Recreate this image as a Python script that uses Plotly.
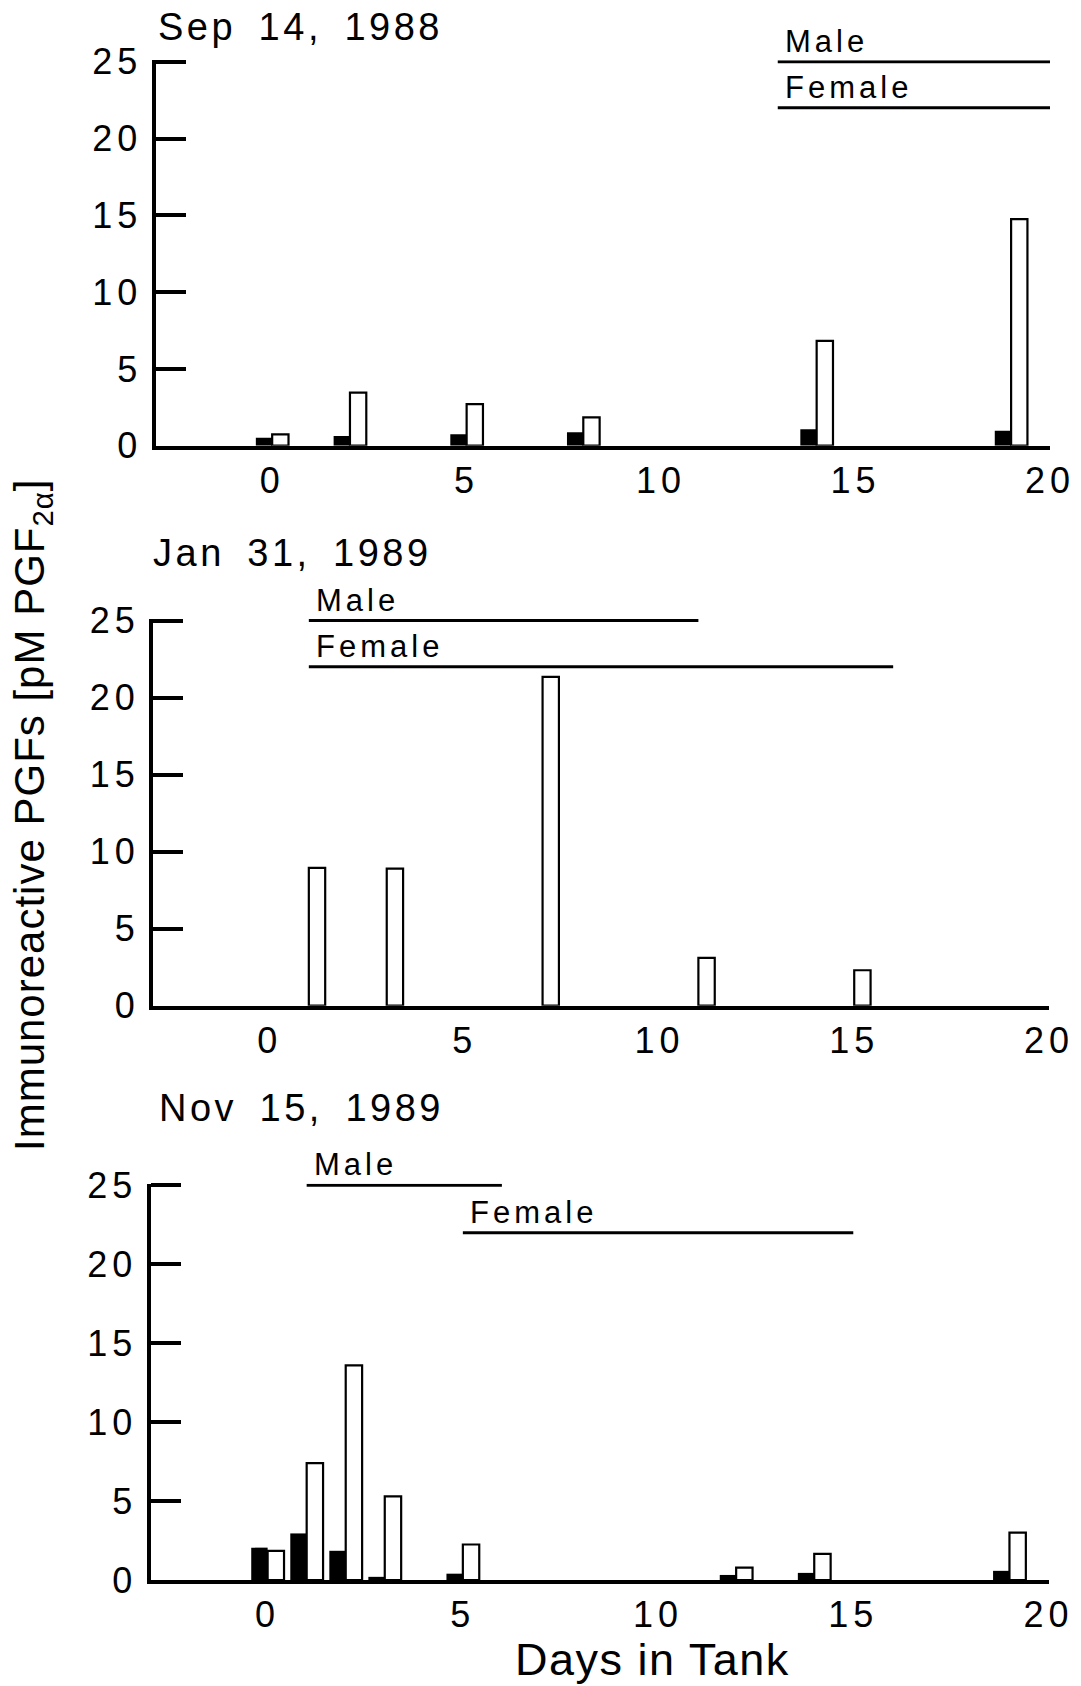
import plotly.graph_objects as go

W, H = 1081, 1686

# PGF levels (pM PGF2a) by day in tank; black = male, white = female
sep88_days = [0, 2, 5, 8, 14, 19]
sep88_male = [0.52, 0.63, 0.74, 0.87, 1.07, 0.98]
sep88_female = [0.74, 3.45, 2.7, 1.85, 6.82, 14.75]

jan89_days = [1, 3, 7, 11, 15]
jan89_male = [0, 0, 0, 0, 0]
jan89_female = [8.95, 8.9, 21.35, 3.1, 2.3]

nov89_days = [0, 1, 2, 3, 5, 12, 14, 19]
nov89_male = [2.05, 2.95, 1.85, 0.2, 0.4, 0.32, 0.45, 0.58]
nov89_female = [1.85, 7.4, 13.6, 5.3, 2.25, 0.78, 1.65, 3.0]

# days each fish spent in the tank (start, end)
sep88_male_period = [13, 20]
sep88_female_period = [13, 20]
jan89_male_period = [1, 11]
jan89_female_period = [1, 16]
nov89_male_period = [1, 6]
nov89_female_period = [5, 15]

# heights at which the period bars are drawn
male_bar_level = 25
female_bar_level = 22

trial_titles = ["Sep\u200214,\u20021988", "Jan\u200231,\u20021989", "Nov\u200215,\u20021989"]
x_ticks = [0, 5, 10, 15, 20]
y_ticks = [0, 5, 10, 15, 20, 25]
x_range = [-3, 20]
y_range = [0, 25.1]   # a little headroom so the top period bar is not clipped

FONT = "Liberation Sans, Arial, Helvetica, sans-serif"
BAR_W = 0.42


def px(x):
    return x / W


def py(y):
    return 1 - y / H


# panel frames in pixels: left, right, top (value 25), bottom, title left, title centre
frames = [
    dict(x0=155.5, x1=1050, top=61.7, bot=445.7, tx=157, ty=27),
    dict(x0=153, x1=1049, top=620.6, bot=1005.7, tx=152, ty=553),
    dict(x0=150.5, x1=1048.5, top=1185.3, bot=1580, tx=158, ty=1108),
]

trials = [
    (sep88_days, sep88_male, sep88_female, sep88_male_period, sep88_female_period),
    (jan89_days, jan89_male, jan89_female, jan89_male_period, jan89_female_period),
    (nov89_days, nov89_male, nov89_female, nov89_male_period, nov89_female_period),
]

fig = go.Figure()
shapes = []
annotations = []
layout = {}

for i, (fr, (days, male, female, mper, fper), title) in enumerate(zip(frames, trials, trial_titles)):
    n = "" if i == 0 else str(i + 1)
    xa, ya = "x" + n, "y" + n

    # extend the frame top so that the value 25 stays on the measured pixel row
    unit = (fr["bot"] - fr["top"]) / 25.0
    top = fr["top"] - (y_range[1] - 25) * unit

    fig.add_trace(go.Bar(
        x=days, y=male, width=BAR_W, offset=-BAR_W,
        marker=dict(color="black", line=dict(color="black", width=0)),
        xaxis=xa, yaxis=ya, showlegend=False, name="Male"))
    fig.add_trace(go.Bar(
        x=days, y=female, width=BAR_W, offset=0,
        marker=dict(color="white", line=dict(color="black", width=2.2)),
        xaxis=xa, yaxis=ya, showlegend=False, name="Female"))

    layout["xaxis" + n] = dict(
        domain=[px(fr["x0"]), px(fr["x1"])], range=x_range, anchor=ya,
        showline=True, linewidth=4, linecolor="black", ticks="",
        tickvals=x_ticks, showgrid=False, zeroline=False, automargin=False,
        tickfont=dict(family=FONT, size=36, color="black"), ticklabelstandoff=0)
    layout["yaxis" + n] = dict(
        domain=[py(fr["bot"]), py(top)], range=y_range, anchor=xa,
        showline=True, linewidth=4, linecolor="black",
        ticks="inside", ticklen=30, tickwidth=4, tickcolor="black",
        tickvals=y_ticks, showgrid=False, zeroline=False, automargin=False,
        tickfont=dict(family=FONT, size=36, color="black"), ticklabelstandoff=2)

    # trial date
    annotations.append(dict(
        text=title, xref="paper", yref="paper", x=px(fr["tx"]), y=py(fr["ty"]),
        xanchor="left", yanchor="middle", align="left", showarrow=False, borderpad=0,
        font=dict(family=FONT, size=38, color="black")))

    # residence periods of the male and female
    for label, per, level in (("Male", mper, male_bar_level), ("Female", fper, female_bar_level)):
        shapes.append(dict(type="line", xref=xa, yref=ya, x0=per[0], x1=per[1],
                           y0=level, y1=level, line=dict(color="black", width=3)))
        annotations.append(dict(
            text=label, xref=xa, yref=ya, x=per[0], y=level, xanchor="left",
            yanchor="bottom", align="left", showarrow=False, xshift=6, yshift=2,
            borderpad=0, font=dict(family=FONT, size=31, color="black")))

annotations.append(dict(
    text="Immunoreactive PGFs [pM PGF<sub>2α</sub>]", xref="paper", yref="paper",
    x=px(32), y=py(815), xanchor="center", yanchor="middle", textangle=-90,
    showarrow=False, font=dict(family=FONT, size=42, color="black")))
annotations.append(dict(
    text="Days in Tank", xref="paper", yref="paper", x=px(652), y=py(1659),
    xanchor="center", yanchor="middle", showarrow=False,
    font=dict(family=FONT, size=45, color="black")))

fig.update_layout(
    width=W, height=H, margin=dict(l=0, r=0, t=0, b=0, autoexpand=False),
    paper_bgcolor="white", plot_bgcolor="white", barmode="overlay",
    shapes=shapes, annotations=annotations, showlegend=False, **layout)

# typewriter-style tracking of the labels
tracking = """
var gd = document.getElementById('{plot_id}');
gd.querySelectorAll('.xaxislayer-above text, .yaxislayer-above text').forEach(function (t) {
  t.style.letterSpacing = '5px';
});
gd.querySelectorAll('text.annotation-text').forEach(function (t) {
  var fs = parseFloat(t.style.fontSize);
  if (t.textContent.indexOf('Immuno') === 0) { t.style.letterSpacing = '1px'; }
  else if (fs > 40) { t.style.letterSpacing = '1.5px'; }
  else if (fs > 35) { t.style.letterSpacing = '3.5px'; }
  else { t.style.letterSpacing = '4px'; }
});
"""

fig.write_html("out.html", post_script=tracking)
